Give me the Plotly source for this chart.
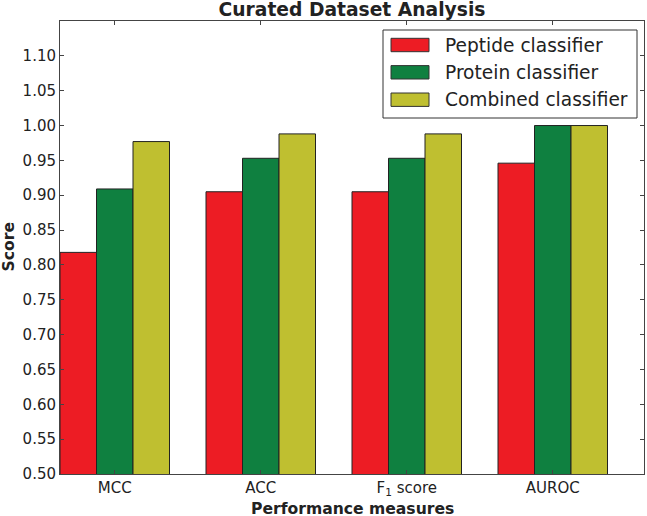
import plotly.graph_objects as go

# ---- data ----
categories = ["MCC", "ACC", "F<sub>1</sub> score", "AUROC"]
series_names = ["Peptide classifier", "Protein classifier", "Combined classifier"]
peptide = [0.818, 0.905, 0.905, 0.946]
protein = [0.909, 0.953, 0.953, 1.000]
combined = [0.977, 0.988, 0.988, 1.000]
y_ticks = [0.50, 0.55, 0.60, 0.65, 0.70, 0.75, 0.80, 0.85, 0.90, 0.95, 1.00, 1.05, 1.10]

colors = ["#ED1C24", "#0F8040", "#BFBF30"]
values = [peptide, protein, combined]

W, H = 647, 516
L, R, T, B = 60, 3, 21, 42
PW, PH = W - L - R, H - T - B
FONT = "DejaVu Sans"


def px(x):
    return (x - L) / PW


def py(y):
    return 1 - (y - T) / PH


fig = go.Figure()
for name, vals, col in zip(series_names, values, colors):
    fig.add_trace(go.Bar(
        x=categories, y=vals, name=name,
        marker=dict(color=col, line=dict(color="#222222", width=1)),
        showlegend=False,
    ))

# custom matplotlib-like legend
shapes = [dict(type="rect", xref="paper", yref="paper",
               x0=px(383), x1=px(637), y0=py(118), y1=py(30),
               line=dict(color="#333333", width=1), fillcolor="white", layer="above")]
annotations = []
row_centers = [45, 72.3, 99.7]
for name, col, yc in zip(series_names, colors, row_centers):
    shapes.append(dict(type="rect", xref="paper", yref="paper",
                       x0=px(391), x1=px(429), y0=py(yc + 6.7), y1=py(yc - 6.7),
                       line=dict(color="#333333", width=1), fillcolor=col, layer="above"))
    annotations.append(dict(text=name, xref="paper", yref="paper",
                            x=px(443), y=py(yc), xanchor="left", yanchor="middle",
                            showarrow=False, font=dict(family=FONT, size=18.6, color="#222222")))

# axis titles
annotations.append(dict(text="<b>Performance measures</b>", xref="paper", yref="paper",
                        x=0.5, y=py(518.5), xanchor="center", yanchor="bottom", showarrow=False,
                        borderpad=0, font=dict(family=FONT, size=15.6, color="#222222")))
annotations.append(dict(text="<b>Score</b>", xref="paper", yref="paper",
                        x=px(8), y=0.5, xanchor="center", yanchor="middle", textangle=-90,
                        showarrow=False, font=dict(family=FONT, size=15.6, color="#222222")))

axis_common = dict(showline=True, linecolor="#444444", linewidth=1, mirror="ticks",
                   ticks="inside", ticklen=4, tickcolor="#444444", showgrid=False,
                   zeroline=False, tickfont=dict(family=FONT, size=15, color="#222222"))

fig.update_layout(
    width=W, height=H,
    margin=dict(l=L, r=R, t=T, b=B, autoexpand=False),
    paper_bgcolor="white", plot_bgcolor="white",
    barmode="group", bargap=0.25, bargroupgap=0,
    title=dict(text="<b>Curated Dataset Analysis</b>", x=px(352), xanchor="center",
               xref="paper", yref="container", y=1 - 9.5 / H, yanchor="middle",
               font=dict(family=FONT, size=18.7, color="#222222")),
    xaxis=dict(range=[-0.375, 3.625], **axis_common),
    yaxis=dict(range=[0.5, 1.15], tickvals=y_ticks, tickformat=".2f", **axis_common),
    shapes=shapes, annotations=annotations,
    font=dict(family=FONT),
)

fig.write_html("out.html", config={"displayModeBar": False},
               post_script="document.body.style.margin='0';")
